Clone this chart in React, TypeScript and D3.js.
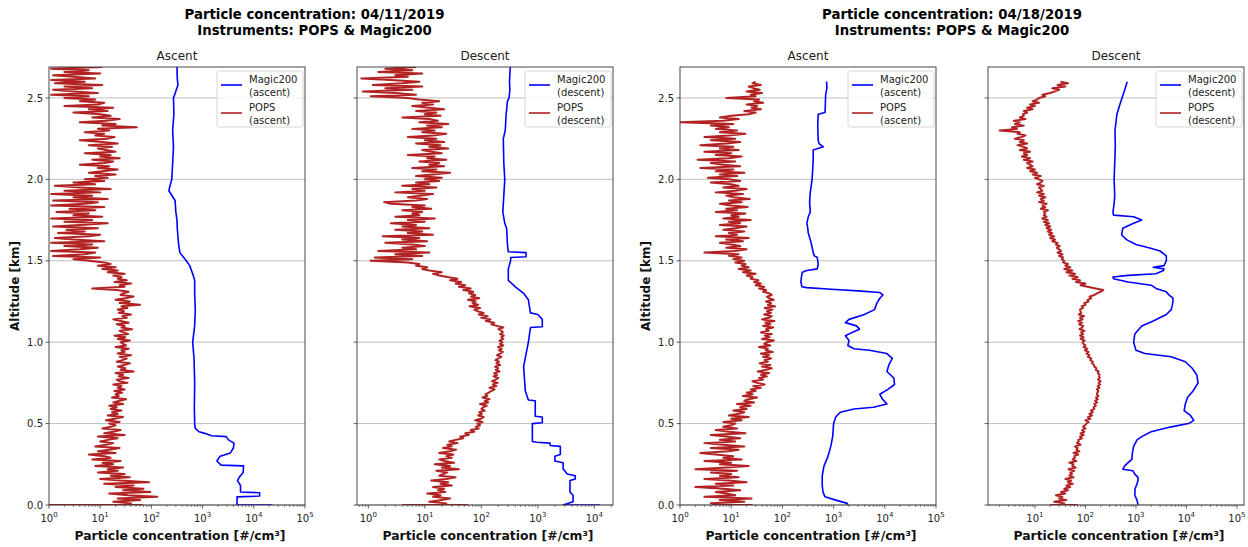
import React from 'react';
import * as d3 from 'd3';

// Vertical spacing of the POPS samples (km)
const ALT_STEP = 0.01;

// POPS 04/11/2019 ascent, one sample every ALT_STEP km from the ground up
const pops0411Asc = [
  25, 40, 18, 60, 22, 130, 35, 15, 95, 28,
  70, 20, 45, 12, 90, 25, 10, 38, 16, 30,
  9, 22, 14, 28, 8, 18, 11, 25, 7, 16,
  12, 6, 20, 9, 15, 24, 8, 13, 18, 10,
  14, 22, 9, 30, 12, 18, 25, 11, 16, 20,
  15, 24, 13, 19, 28, 14, 22, 17, 26, 16,
  21, 15, 28, 18, 24, 32, 17, 23, 20, 27,
  19, 30, 22, 26, 18, 34, 24, 21, 36, 23,
  28, 20, 45, 25, 31, 22, 29, 38, 21, 27,
  33, 24, 40, 22, 30, 26, 36, 20, 32, 28,
  25, 38, 22, 31, 19, 35, 28, 24, 42, 26,
  30, 21, 36, 25, 18, 33, 27, 40, 23, 29,
  22, 34, 26, 60, 24, 38, 20, 31, 45, 25,
  28, 36, 21, 7, 30, 24, 40, 19, 33, 22,
  26, 18, 30, 14, 22, 11, 20, 9, 16, 12,
  6, 3, 10, 1.2, 5, 8, 1.1, 4, 9, 2,
  7, 1.1, 12, 3, 1.3, 6, 10, 1.5, 5, 2.2,
  9, 1.2, 4, 14, 2, 7, 1.1, 11, 3, 6,
  1.4, 8, 2.5, 12, 1.1, 5, 9, 1.2, 14, 3,
  7, 1.1, 10, 2, 16, 4, 1.3, 8, 3, 12,
  5, 14, 8, 20, 6, 11, 22, 9, 15, 4,
  12, 18, 7, 24, 10, 16, 5, 20, 13, 9,
  17, 6, 22, 11, 4, 14, 19, 8, 12, 5,
  15, 9, 52, 11, 20, 4, 13, 24, 7, 16,
  10, 3, 14, 6, 18, 2, 9, 12, 4, 8,
  2, 6, 1.1, 9, 3, 1.2, 7, 2, 11, 1.3,
  5, 1.1, 8, 3, 1.2, 10, 2, 6, 1.1, 11,
];
const pops0411AscGround = [1, 66];

// POPS 04/11/2019 descent
const pops0411Desc = [
  15, 24, 12, 20, 28, 14, 19, 11, 23, 17,
  22, 14, 30, 19, 26, 13, 24, 35, 18, 21,
  25, 16, 40, 20, 28, 15, 33, 22, 18, 30,
  24, 32, 18, 28, 36, 21, 30, 25, 38, 27,
  35, 48, 42, 60, 52, 75, 65, 90, 80, 95,
  85, 105, 78, 98, 110, 88, 102, 92, 115, 100,
  108, 125, 95, 132, 115, 140, 105, 128, 118, 135,
  150, 172, 140, 185, 160, 195, 155, 178, 200, 165,
  190, 168, 210, 180, 198, 175, 215, 185, 205, 178,
  200, 225, 190, 215, 240, 205, 230, 198, 245, 215,
  235, 210, 245, 225, 250, 215, 240, 230, 200, 245,
  190, 150, 170, 120, 145, 100, 130, 90, 110, 85,
  75, 95, 62, 88, 70, 80, 58, 92, 66, 78,
  60, 72, 48, 65, 40, 52, 35, 44, 28, 38,
  25, 18, 14, 20, 12, 9, 11, 7, 8, 5,
  1.1, 6, 1.3, 9, 3, 12, 1.5, 7, 4, 10,
  6, 2, 11, 4, 8, 1.8, 14, 5, 9, 3,
  12, 4, 7, 2.5, 10, 5, 15, 3, 8, 6,
  9, 4, 13, 6, 10, 2.5, 1.9, 7, 11, 5,
  8, 14, 3, 10, 6, 16, 4, 12, 7, 18,
  10, 20, 7, 14, 28, 9, 16, 6, 22, 12,
  18, 8, 24, 11, 15, 5, 20, 13, 9, 26,
  12, 19, 7, 22, 10, 16, 5, 14, 24, 9,
  15, 6, 20, 11, 26, 8, 17, 12, 4, 19,
  10, 16, 7, 22, 12, 6, 14, 9, 18, 8,
  5, 1.1, 7, 3, 0.8, 6, 2, 9, 1.2, 4,
  8, 2.5, 0.75, 5, 3, 9, 1.5, 6, 2, 7,
];
const pops0411DescGround = [4, 57];

// POPS 04/18/2019 ascent
const pops0418Asc = [
  9, 4, 18, 6, 25, 3, 12, 8, 5, 15,
  7, 2, 11, 5, 20, 9, 3, 14, 6, 10,
  4, 13, 2, 8, 22, 6, 10, 3, 16, 7,
  11, 5, 2.5, 9, 14, 4, 18, 7, 3, 12,
  6, 15, 8, 4, 19, 9, 5, 13, 7, 10,
  12, 7, 16, 10, 22, 9, 14, 18, 11, 20,
  15, 24, 13, 28, 18, 22, 32, 17, 26, 20,
  30, 24, 38, 27, 45, 32, 26, 42, 35, 50,
  38, 55, 33, 48, 62, 40, 58, 36, 52, 45,
  60, 42, 55, 38, 65, 47, 52, 35, 58, 44,
  50, 68, 40, 56, 45, 62, 38, 54, 48, 66,
  42, 58, 46, 70, 40, 55, 62, 44, 60, 50,
  64, 45, 72, 52, 60, 48, 68, 55, 50, 62,
  55, 42, 48, 35, 44, 30, 38, 28, 34, 24,
  26, 20, 30, 17, 24, 14, 22, 16, 19, 12,
  18, 11, 16, 9, 14, 3, 12, 20, 8, 15,
  10, 6, 17, 8, 22, 5, 13, 9, 18, 7,
  12, 20, 6, 15, 9, 24, 7, 14, 10, 19,
  5, 13, 8, 21, 10, 6, 16, 9, 23, 11,
  8, 17, 5, 12, 20, 7, 14, 10, 4, 15,
  9, 3.5, 13, 6, 18, 5, 11, 2.5, 15, 7,
  4, 12, 2.2, 9, 16, 5, 10, 3, 14, 6,
  11, 2.5, 8, 15, 4, 12, 3, 9, 19, 6,
  13, 5, 9, 4, 11, 1.0, 7, 14, 6, 10,
  22, 30, 18, 38, 25, 32, 20, 42, 28, 35,
  8, 30, 24, 40, 20, 36, 27, 22, 38, 26,
  30,
];
const pops0418AscGround = [4.2, 25];

// POPS 04/18/2019 descent
const pops0418Desc = [
  28, 38, 24, 42, 30, 35, 26, 40, 33, 45,
  38, 50, 42, 56, 45, 52, 40, 58, 48, 54,
  50, 60, 46, 64, 55, 58, 48, 66, 56, 62,
  60, 72, 58, 76, 66, 70, 62, 80, 68, 74,
  72, 85, 78, 92, 80, 95, 86, 100, 90, 98,
  105, 115, 100, 125, 112, 135, 120, 140, 128, 150,
  145, 160, 150, 170, 155, 175, 162, 180, 168, 172,
  180, 168, 190, 175, 195, 182, 200, 178, 192, 185,
  190, 175, 182, 160, 165, 150, 148, 135, 140, 125,
  130, 112, 120, 105, 115, 98, 108, 92, 100, 90,
  88, 96, 80, 92, 78, 90, 82, 95, 76, 86,
  90, 75, 85, 72, 88, 78, 94, 74, 82, 80,
  78, 90, 84, 100, 95, 115, 110, 130, 120, 150,
  170, 200, 225, 160, 110, 80, 100, 65, 78, 55,
  70, 48, 62, 42, 55, 38, 50, 40, 45, 36,
  38, 34, 36, 30, 35, 28, 33, 30, 27, 31,
  26, 28, 22, 25, 20, 24, 19, 22, 18, 21,
  17, 20, 16, 19, 15, 18, 14, 17, 15, 16,
  15, 18, 13, 16, 14, 17, 12, 15, 13, 16,
  12, 15, 11, 14, 13, 12, 15, 11, 13, 14,
  12, 10, 13, 9, 11, 8, 10, 7, 9, 8,
  7, 9, 6, 8, 5.5, 7, 6, 8, 5, 7,
  6, 4.5, 7, 5, 6, 4, 5.5, 6.5, 4.5, 5,
  2, 4.4, 3.5, 6, 4, 5, 3.8, 6.5, 5, 6,
  5.8, 7, 6, 9, 7, 10, 8, 12, 9, 11,
  12, 16, 14, 20, 25, 30, 22, 40, 28, 45,
  32,
];
const pops0418DescGround = [20, 68];

// Magic200 profiles: [altitude km, concentration #/cm³]
const magic0411Asc: [number, number][] = [
  [0, 23000], [0, 4700], [0.05, 4700], [0.055, 13000], [0.075, 13000], [0.08, 5500],
  [0.12, 5500], [0.15, 4800], [0.17, 5200], [0.2, 6200], [0.24, 6300], [0.245, 2300],
  [0.27, 1900], [0.3, 2200], [0.32, 3500], [0.35, 4000], [0.38, 4100], [0.4, 3200],
  [0.42, 2900], [0.425, 1500], [0.44, 1100], [0.45, 850], [0.47, 720], [0.5, 700],
  [0.6, 690], [0.75, 700], [0.9, 680], [1.0, 640], [1.1, 700], [1.2, 720],
  [1.3, 700], [1.38, 700], [1.42, 640], [1.47, 560], [1.5, 480], [1.55, 360],
  [1.6, 340], [1.7, 320], [1.75, 316], [1.8, 300], [1.87, 290], [1.93, 220],
  [1.96, 230], [2.0, 250], [2.1, 260], [2.2, 270], [2.3, 260], [2.4, 275],
  [2.5, 270], [2.58, 330], [2.62, 320], [2.69, 316],
];

const magic0411Desc: [number, number][] = [
  [0, 12600], [0, 2800], [0.02, 4200], [0.06, 4200], [0.08, 3700], [0.15, 3700],
  [0.16, 4600], [0.18, 4600], [0.19, 3300], [0.21, 3000], [0.22, 2800], [0.26, 2800],
  [0.27, 2000], [0.3, 2000], [0.31, 2500], [0.36, 2500], [0.365, 1650], [0.38, 1650],
  [0.385, 950], [0.39, 800], [0.5, 800], [0.505, 1200], [0.54, 1200], [0.545, 900],
  [0.64, 900], [0.645, 680], [0.7, 600], [0.85, 560], [1.0, 680], [1.09, 740],
  [1.095, 1200], [1.14, 1200], [1.17, 1000], [1.18, 740], [1.26, 680], [1.3, 560],
  [1.34, 400], [1.38, 300], [1.45, 300], [1.5, 330], [1.52, 330], [1.525, 620],
  [1.55, 620], [1.555, 300], [1.6, 290], [1.7, 280], [1.73, 260], [1.8, 240],
  [1.9, 250], [2.0, 260], [2.1, 250], [2.25, 245], [2.3, 265], [2.4, 275],
  [2.48, 290], [2.5, 310], [2.55, 320], [2.6, 315], [2.69, 325],
];

const magic0418Asc: [number, number][] = [
  [0, 1900], [0.01, 1850], [0.03, 1100], [0.05, 680], [0.08, 620], [0.12, 600],
  [0.18, 600], [0.24, 650], [0.3, 780], [0.36, 880], [0.42, 960], [0.5, 1000],
  [0.54, 1100], [0.57, 1350], [0.59, 2500], [0.6, 6000], [0.62, 11000], [0.65, 9000],
  [0.68, 8000], [0.71, 11500], [0.74, 15500], [0.78, 15000], [0.82, 11000], [0.86, 12000],
  [0.9, 14000], [0.93, 11000], [0.95, 5000], [0.96, 2500], [0.98, 1900], [1.01, 2000],
  [1.04, 1700], [1.06, 2300], [1.08, 3200], [1.1, 2800], [1.12, 1700], [1.14, 2000],
  [1.17, 4000], [1.2, 6300], [1.24, 7000], [1.27, 8000], [1.29, 9200], [1.305, 8000],
  [1.315, 3000], [1.325, 900], [1.335, 300], [1.34, 240], [1.37, 230], [1.4, 235],
  [1.43, 245], [1.44, 300], [1.45, 480], [1.48, 500], [1.5, 490], [1.52, 480],
  [1.53, 420], [1.55, 400], [1.6, 370], [1.63, 350], [1.67, 320], [1.71, 310],
  [1.73, 300], [1.77, 320], [1.8, 350], [1.86, 340], [1.92, 350], [2.0, 380],
  [2.06, 390], [2.12, 400], [2.18, 400], [2.2, 630], [2.22, 520], [2.24, 500],
  [2.33, 490], [2.4, 500], [2.41, 680], [2.46, 690], [2.52, 700], [2.56, 740],
  [2.6, 730],
];

const magic0418Desc: [number, number][] = [
  [0, 1100], [0.03, 1050], [0.06, 950], [0.1, 960], [0.13, 1050], [0.15, 1100],
  [0.17, 1100], [0.19, 950], [0.21, 870], [0.22, 550], [0.24, 600], [0.26, 700],
  [0.28, 830], [0.32, 850], [0.36, 900], [0.4, 1050], [0.42, 1300], [0.45, 2000],
  [0.48, 5000], [0.5, 11000], [0.52, 14000], [0.55, 12000], [0.58, 9000], [0.62, 9500],
  [0.66, 10500], [0.7, 13500], [0.75, 17000], [0.8, 16000], [0.84, 13000], [0.88, 9500],
  [0.91, 5000], [0.93, 1500], [0.95, 1000], [1.0, 900], [1.05, 950], [1.1, 1300],
  [1.13, 2200], [1.17, 4000], [1.2, 5000], [1.22, 5200], [1.25, 5400], [1.27, 5400],
  [1.29, 4500], [1.31, 4000], [1.33, 2500], [1.35, 2000], [1.37, 700], [1.39, 360],
  [1.4, 350], [1.41, 700], [1.42, 2500], [1.44, 3500], [1.45, 3600], [1.46, 2200],
  [1.47, 3600], [1.5, 4000], [1.53, 4000], [1.56, 3000], [1.58, 1800], [1.6, 1000],
  [1.63, 650], [1.66, 520], [1.7, 550], [1.73, 900], [1.75, 1300], [1.77, 900],
  [1.78, 360], [1.8, 350], [1.85, 370], [1.9, 380], [2.0, 370], [2.1, 380],
  [2.2, 390], [2.3, 385], [2.4, 420], [2.45, 470], [2.5, 530], [2.55, 600],
  [2.6, 670],
];

const figureTitles = [
  ['Particle concentration: 04/11/2019', 'Instruments: POPS & Magic200'],
  ['Particle concentration: 04/18/2019', 'Instruments: POPS & Magic200'],
];
const altitudeTicks = [0, 0.5, 1.0, 1.5, 2.0, 2.5];
const ALT_MAX = 2.69;
const X_LABEL = 'Particle concentration [#/cm³]';
const Y_LABEL = 'Altitude [km]';

const W = 1248;
const H = 547;
const TOP = 67;
const BOTTOM = 505;
const PW = 256;
const FONT = '"DejaVu Sans", sans-serif';
const BLUE = '#0000ff';
const RED = '#b22222';

type PanelDef = {
  left: number;
  xDomain: [number, number];
  title: string;
  phase: string;
  magic: [number, number][];
  pops: number[];
  ground: number[];
  yLabels: boolean;
};

const panels: PanelDef[] = [
  { left: 49, xDomain: [1, 1e5], title: 'Ascent', phase: 'ascent', magic: magic0411Asc, pops: pops0411Asc, ground: pops0411AscGround, yLabels: true },
  { left: 357, xDomain: [Math.pow(10, -0.2), Math.pow(10, 4.33)], title: 'Descent', phase: 'descent', magic: magic0411Desc, pops: pops0411Desc, ground: pops0411DescGround, yLabels: false },
  { left: 680, xDomain: [1, 1e5], title: 'Ascent', phase: 'ascent', magic: magic0418Asc, pops: pops0418Asc, ground: pops0418AscGround, yLabels: true },
  { left: 988, xDomain: [Math.pow(10, 0.07), Math.pow(10, 5.14)], title: 'Descent', phase: 'descent', magic: magic0418Desc, pops: pops0418Desc, ground: pops0418DescGround, yLabels: false },
];

const y = d3.scaleLinear().domain([0, ALT_MAX]).range([BOTTOM, TOP]);

function Panel({ p, idx }: { p: PanelDef; idx: number }) {
  const x = d3.scaleLog().domain(p.xDomain).range([p.left, p.left + PW]);
  const line = d3
    .line<[number, number]>()
    .x((d) => x(d[1]))
    .y((d) => y(d[0]));

  const popsPts: [number, number][] = [
    ...p.ground.map((v) => [0, v] as [number, number]),
    ...p.pops.map((v, i) => [i * ALT_STEP, v] as [number, number]),
  ];

  const lo = Math.log10(p.xDomain[0]);
  const hi = Math.log10(p.xDomain[1]);
  const majors: number[] = [];
  for (let k = Math.ceil(lo - 1e-9); k <= Math.floor(hi + 1e-9); k++) majors.push(k);
  const minors: number[] = [];
  for (let k = Math.floor(lo); k <= Math.floor(hi); k++) {
    for (let m = 2; m <= 9; m++) {
      const v = m * Math.pow(10, k);
      if (v >= p.xDomain[0] && v <= p.xDomain[1]) minors.push(v);
    }
  }

  const right = p.left + PW;
  const cx = p.left + PW / 2;
  const clipId = `clip-${idx}`;
  const legX = right - 88;
  const legY = 71;

  return (
    <g>
      <defs>
        <clipPath id={clipId}>
          <rect x={p.left} y={TOP} width={PW} height={BOTTOM - TOP} />
        </clipPath>
      </defs>
      {/* horizontal grid */}
      {altitudeTicks.map((t) => (
        <line key={`g${t}`} x1={p.left} x2={right} y1={y(t)} y2={y(t)} stroke="#b0b0b0" strokeWidth={0.8} />
      ))}
      <g clipPath={`url(#${clipId})`}>
        <path d={line(popsPts) || ''} fill="none" stroke={RED} strokeWidth={2} strokeLinejoin="round" />
        <path d={line(p.magic) || ''} fill="none" stroke={BLUE} strokeWidth={1.6} strokeLinejoin="round" />
      </g>
      {/* frame */}
      <rect x={p.left} y={TOP} width={PW} height={BOTTOM - TOP} fill="none" stroke="#333" strokeWidth={0.9} />
      {/* x ticks */}
      {minors.map((v, i) => (
        <line key={`mi${i}`} x1={x(v)} x2={x(v)} y1={BOTTOM} y2={BOTTOM + 2} stroke="#333" strokeWidth={0.6} />
      ))}
      {majors.map((k) => (
        <g key={`ma${k}`}>
          <line x1={x(Math.pow(10, k))} x2={x(Math.pow(10, k))} y1={BOTTOM} y2={BOTTOM + 3.5} stroke="#333" strokeWidth={0.8} />
          <text x={x(Math.pow(10, k))} y={522} textAnchor="middle" fontFamily={FONT} fontSize={10} fill="#222">
            10<tspan dy={-5} fontSize={7}>{k}</tspan>
          </text>
        </g>
      ))}
      {/* y ticks */}
      {altitudeTicks.map((t) => (
        <g key={`yt${t}`}>
          <line x1={p.left - 3.5} x2={p.left} y1={y(t)} y2={y(t)} stroke="#333" strokeWidth={0.8} />
          {p.yLabels && (
            <text x={p.left - 6} y={y(t) + 3.6} textAnchor="end" fontFamily={FONT} fontSize={10} fill="#222">
              {t.toFixed(1)}
            </text>
          )}
        </g>
      ))}
      {/* titles and labels */}
      <text x={cx} y={60} textAnchor="middle" fontFamily={FONT} fontSize={12} fill="#222">
        {p.title}
      </text>
      <text x={cx + 3} y={540} textAnchor="middle" fontFamily={FONT} fontSize={12.4} fontWeight="bold" fill="#111">
        {X_LABEL}
      </text>
      {p.yLabels && (
        <text
          transform={`translate(${p.left - 30},${(TOP + BOTTOM) / 2}) rotate(-90)`}
          textAnchor="middle"
          fontFamily={FONT}
          fontSize={12}
          fontWeight="bold"
          fill="#111"
        >
          {Y_LABEL}
        </text>
      )}
      {/* legend */}
      <g>
        <rect x={legX} y={legY} width={86} height={56} rx={2.5} fill="#fff" fillOpacity={0.8} stroke="#cccccc" strokeWidth={0.8} />
        <line x1={legX + 4} x2={legX + 25} y1={legY + 14} y2={legY + 14} stroke={BLUE} strokeWidth={1.6} />
        <text x={legX + 32} y={legY + 12} fontFamily={FONT} fontSize={10} fill="#222">Magic200</text>
        <text x={legX + 32} y={legY + 25} fontFamily={FONT} fontSize={10} fill="#222">({p.phase})</text>
        <line x1={legX + 4} x2={legX + 25} y1={legY + 42} y2={legY + 42} stroke={RED} strokeOpacity={0.8} strokeWidth={2} />
        <text x={legX + 32} y={legY + 40} fontFamily={FONT} fontSize={10} fill="#222">POPS</text>
        <text x={legX + 32} y={legY + 53} fontFamily={FONT} fontSize={10} fill="#222">({p.phase})</text>
      </g>
    </g>
  );
}

export default function App() {
  const titleCenters = [314.5, 952];
  return (
    <div style={{ position: 'absolute', left: 0, top: 0 }}>
      <svg width={W} height={H} viewBox={`0 0 ${W} ${H}`} style={{ display: 'block', background: '#fff' }}>
        <rect x={0} y={0} width={W} height={H} fill="#fff" />
        {figureTitles.map((lines, i) => (
          <g key={`t${i}`}>
            {lines.map((s, j) => (
              <text key={j} x={titleCenters[i]} y={19 + j * 16} textAnchor="middle" fontFamily={FONT} fontSize={13.3} fontWeight="bold" fill="#000">
                {s}
              </text>
            ))}
          </g>
        ))}
        {panels.map((p, i) => (
          <Panel key={i} p={p} idx={i} />
        ))}
      </svg>
    </div>
  );
}
